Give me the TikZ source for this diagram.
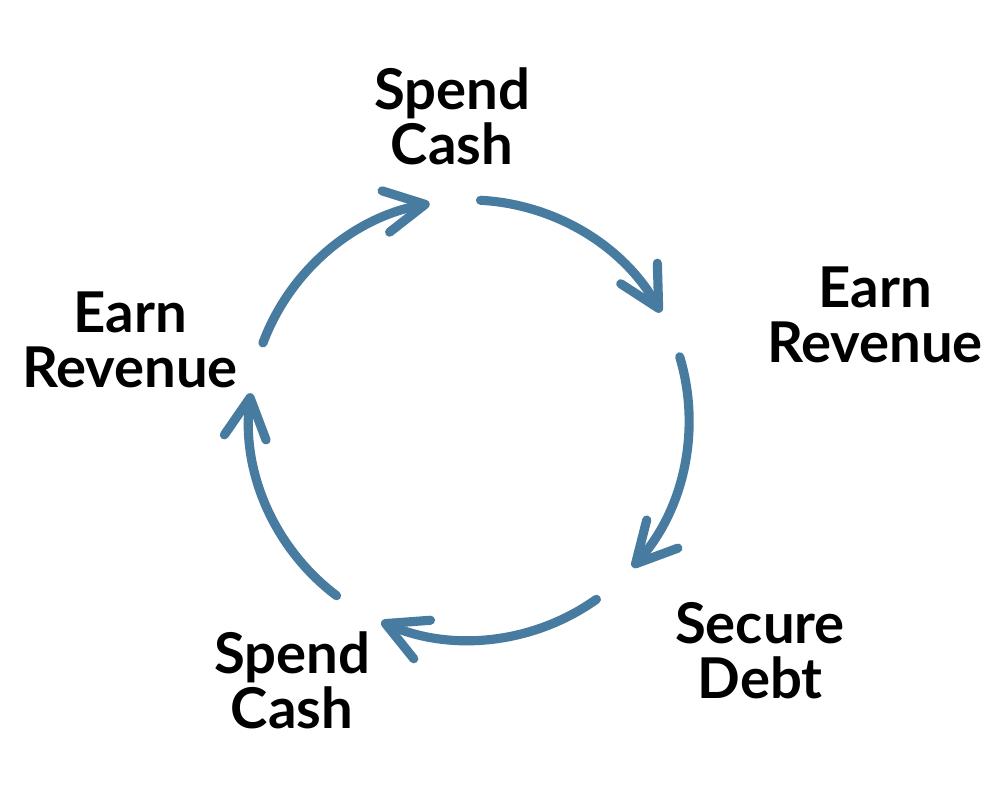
\documentclass[tikz,border=0pt]{standalone}
\usepackage{fontspec}
\setmainfont{Lato}
\usetikzlibrary{arrows.meta}
\definecolor{cycleblue}{RGB}{71,123,159}

\begin{document}
\begin{tikzpicture}
    % Khung ảnh 1000 x 800
    \useasboundingbox (0,0) rectangle (10,8);

    % Styling chung
    \tikzset{
        c_arc/.style={draw=cycleblue, line width=2.6pt, line cap=round,
            -{Straight Barb[round, length=4mm, width=4.2mm]}},
        c_label/.style={align=center, font=\fontsize{16}{15.6}\selectfont\bfseries}
    }

    % Tâm vòng tròn
    \coordinate (O) at (4.69, 3.80);

    % Nhãn các bước
    \node[c_label] (spendtop) at (4.52, 6.84) {Spend\\Cash};
    \node[c_label] (earnright) at (8.75, 4.85) {Earn\\Revenue};
    \node[c_label] (debt) at (7.60, 1.49) {Secure\\Debt};
    \node[c_label] (spendbot) at (2.92, 1.20) {Spend\\Cash};
    \node[c_label] (earnleft) at (1.30, 4.60) {Earn\\Revenue};

    % Các cung mũi tên
    \draw[c_arc] (O) ++(87:2.2) arc[start angle=87, end angle=29.3, radius=2.2];
    \draw[c_arc] (O) ++(16.7:2.2) arc[start angle=16.7, end angle=-42, radius=2.2];
    \draw[c_arc] (O) ++(-54.6:2.2) arc[start angle=-54.6, end angle=-113.5, radius=2.2];
    \draw[c_arc] (O) ++(-127:2.2) arc[start angle=-127, end angle=-187, radius=2.2];
    \draw[c_arc] (O) ++(159.5:2.2) arc[start angle=159.5, end angle=100.3, radius=2.2];
\end{tikzpicture}
\end{document}
